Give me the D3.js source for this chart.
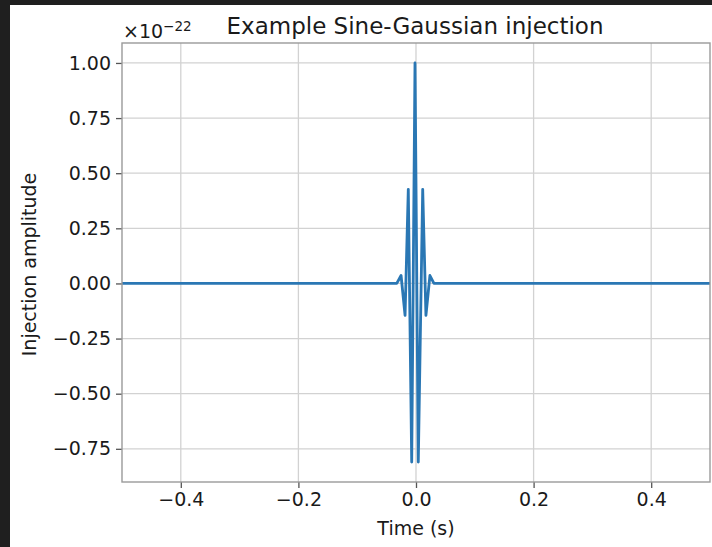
<!DOCTYPE html>
<html>
<head>
<meta charset="utf-8">
<script src="https://cdn.jsdelivr.net/npm/d3@7"></script>
<style>
  html, body { margin: 0; padding: 0; background: #1f1f1f; }
  svg { display: block; }
  text { font-family: "DejaVu Sans", sans-serif; fill: #1a1a1a; }
</style>
</head>
<body>
<svg id="chart" width="712" height="547"></svg>
<script>
// Sine-Gaussian burst, time in seconds, amplitude in units of 1e-22
const times = [-0.5, -0.0327, -0.0254, -0.0186, -0.0131, -0.0073, -0.0017, 0.0039, 0.0114, 0.0169, 0.0237, 0.0305, 0.5];
const amplitude = [0, 0, 0.036, -0.145, 0.427, -0.81, 1.0, -0.81, 0.427, -0.145, 0.036, 0, 0];

const xTicks = [-0.4, -0.2, 0.0, 0.2, 0.4];
const yTicks = [-0.75, -0.5, -0.25, 0.0, 0.25, 0.5, 0.75, 1.0];

const titleText = "Example Sine-Gaussian injection";
const xLabel = "Time (s)";
const yLabel = "Injection amplitude";

const W = 712, H = 547;
const plot = { left: 122, right: 710, top: 43, bottom: 482 };

const svg = d3.select("#chart");

// figure background
svg.append("rect").attr("x", 10).attr("y", 5).attr("width", W - 10).attr("height", H - 5).attr("fill", "#ffffff");

// y-limits with 5% padding around the data range
const yMin = d3.min(amplitude), yMax = d3.max(amplitude);
const pad = 0.05 * (yMax - yMin);

const x = d3.scaleLinear().domain([-0.5, 0.5]).range([plot.left, plot.right]);
const y = d3.scaleLinear().domain([yMin - pad, yMax + pad]).range([plot.bottom, plot.top]);

const fmt2 = d => (d < 0 ? "\u2212" : "") + Math.abs(d).toFixed(2);
const fmt1 = d => (d < 0 ? "\u2212" : "") + Math.abs(d).toFixed(1);

// grid
const grid = svg.append("g").attr("stroke", "#d2d2d2").attr("stroke-width", 1.3);
grid.selectAll("line.gx").data(xTicks).join("line")
  .attr("x1", d => x(d)).attr("x2", d => x(d)).attr("y1", plot.top).attr("y2", plot.bottom);
grid.selectAll("line.gy").data(yTicks).join("line")
  .attr("y1", d => y(d)).attr("y2", d => y(d)).attr("x1", plot.left).attr("x2", plot.right);

// waveform
const line = d3.line().x((d, i) => x(times[i])).y(d => y(d));
svg.append("path")
  .datum(amplitude)
  .attr("d", line)
  .attr("fill", "none")
  .attr("stroke", "#2a77b4")
  .attr("stroke-width", 2.8)
  .attr("stroke-linejoin", "round");

// axes
const xAxis = d3.axisBottom(x).tickValues(xTicks).tickFormat(fmt1).tickSize(6).tickPadding(5);
const yAxis = d3.axisLeft(y).tickValues(yTicks).tickFormat(fmt2).tickSize(6).tickPadding(5);

const gx = svg.append("g").attr("transform", `translate(0,${plot.bottom})`).call(xAxis);
const gy = svg.append("g").attr("transform", `translate(${plot.left},0)`).call(yAxis);
[gx, gy].forEach(g => {
  g.select(".domain").remove();
  g.selectAll(".tick line").attr("stroke", "#555").attr("stroke-width", 1.3);
  g.selectAll(".tick text").attr("font-size", 19).attr("fill", "#1a1a1a")
    .style("font-family", "'DejaVu Sans', sans-serif");
});

// frame
svg.append("rect")
  .attr("x", plot.left).attr("y", plot.top)
  .attr("width", plot.right - plot.left).attr("height", plot.bottom - plot.top)
  .attr("fill", "none").attr("stroke", "#9a9a9a").attr("stroke-width", 1.4);

// labels
svg.append("text").attr("x", (plot.left + plot.right) / 2 - 1).attr("y", 34)
  .attr("text-anchor", "middle").attr("font-size", 23).text(titleText);

const off = svg.append("text").attr("x", plot.left + 1).attr("y", 38).attr("font-size", 19);
off.append("tspan").text("\u00d710");
off.append("tspan").attr("dy", -7).attr("font-size", 13.5).text("\u221222");

svg.append("text").attr("x", (plot.left + plot.right) / 2).attr("y", 535)
  .attr("text-anchor", "middle").attr("font-size", 19).text(xLabel);

svg.append("text")
  .attr("transform", `translate(36,${(plot.top + plot.bottom) / 2 + 2}) rotate(-90)`)
  .attr("text-anchor", "middle").attr("font-size", 19).text(yLabel);
</script>
</body>
</html>
